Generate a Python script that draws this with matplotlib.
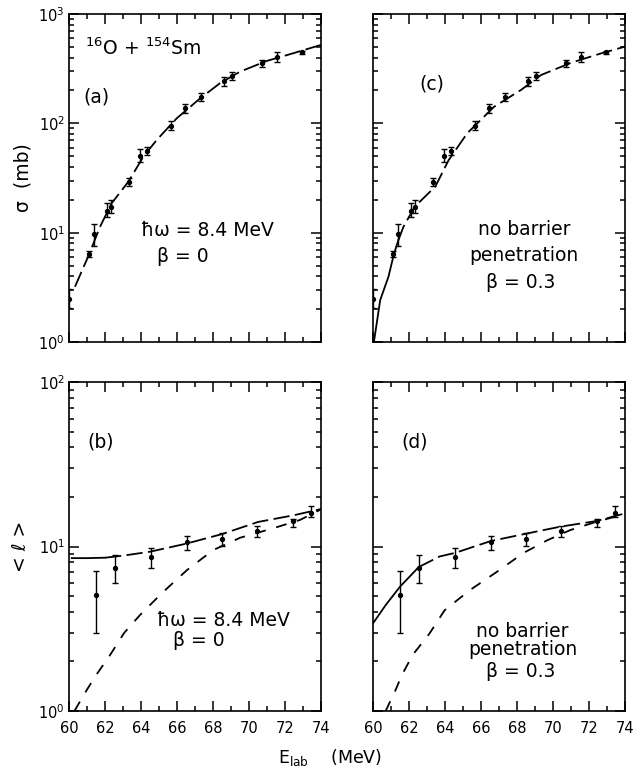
import numpy as np
import matplotlib
matplotlib.use("Agg")
import matplotlib.pyplot as plt
from matplotlib.ticker import LogLocator, MultipleLocator, NullFormatter

# ---- data: cross sections (panels a, c)
sig_E = [60.0, 61.13, 61.39, 62.13, 62.31, 63.35, 63.96, 64.33, 65.65, 66.46, 67.32, 68.59, 69.07, 70.74, 71.56, 72.93]
sig_val = [2.47, 6.35, 9.67, 15.9, 17.3, 28.9, 50.7, 56.3, 95.3, 137, 174, 243, 271, 355, 403, 447]
sig_lo = [2.03, 5.95, 7.55, 14.0, 15.0, 26.9, 44.0, 51.1, 87, 125, 159, 220, 249, 330, 365, 432]
sig_hi = [3.03, 6.8, 12.0, 18.6, 19.9, 31.9, 58.3, 61.2, 106, 150, 188, 264, 295, 380, 447, 462]

# ---- data: mean angular momentum (panels b, d)
l_E = [61.5, 62.57, 64.55, 66.56, 68.52, 70.43, 72.45, 73.45]
l_val = [5.05, 7.4, 8.6, 10.7, 11.1, 12.4, 14.2, 16.0]
l_lo = [2.97, 6.03, 7.44, 9.5, 10.1, 11.5, 13.2, 15.1]
l_hi = [7.13, 8.85, 9.8, 11.6, 12.0, 13.3, 14.8, 17.6]

# ---- theory curves
a_E = [60.33, 61.11, 61.72, 62.37, 63.3, 64.13, 64.87, 65.98, 67.28, 68.39, 69.5, 70.98, 72.46, 74.0]
a_val = [3.2, 6.3, 11.3, 18.6, 29.3, 49.6, 70.4, 111, 169, 233, 297, 372, 438, 522]

c_E = [60.05, 60.4, 60.86, 61.15, 61.41, 61.69, 62.32, 63.46, 64.2, 65.23, 66.73, 68.22, 69.34, 71.02, 72.7, 74.0]
c_val = [1.0, 2.42, 3.96, 6.25, 8.57, 11.3, 17.3, 26.4, 46, 81, 142, 202, 277, 359, 438, 503]

b_up_E = [60.15, 61.0, 62.0, 63.0, 64.5, 66.5, 68.5, 70.5, 72.5, 74.0]
b_up_val = [8.5, 8.5, 8.55, 8.8, 9.3, 10.4, 11.9, 14.1, 15.5, 16.9]

b_low_E = [60.3, 61.0, 61.5, 62.28, 63.06, 63.94, 65.17, 66.56, 68.0, 69.5, 71.33, 72.83, 73.94]
b_low_val = [1.0, 1.35, 1.65, 2.19, 2.98, 3.83, 5.22, 7.2, 9.5, 11.3, 12.9, 14.5, 16.7]

d_up_E = [60.0, 60.7, 61.5, 62.54, 63.7, 64.55, 66.55, 68.55, 70.4, 72.43, 74.0]
d_up_val = [3.41, 4.4, 5.7, 7.5, 8.7, 9.14, 10.8, 12.0, 13.2, 14.3, 15.9]

d_low_E = [60.7, 61.2, 61.6, 62.2, 63.14, 63.98, 65.38, 66.87, 68.36, 69.67, 70.97, 72.47, 73.77]
d_low_val = [1.0, 1.3, 1.65, 2.19, 2.96, 4.1, 5.43, 7.0, 9.14, 10.9, 12.6, 14.2, 15.5]

xticks = [60, 62, 64, 66, 68, 70, 72, 74]

plt.rcParams['font.family'] = ['DejaVu Sans']
fig = plt.figure(figsize=(6.42, 7.71), dpi=100)

W = 0.3925
H_top = 0.4254
ax_a = fig.add_axes([0.1075, 0.5564, W, H_top])
ax_c = fig.add_axes([0.581, 0.5564, W, H_top])
ax_b = fig.add_axes([0.1075, 0.0778, W, 0.4267])
ax_d = fig.add_axes([0.581, 0.0778, W, 0.4267])

LONG = (0, (9, 3))
SHORT = (0, (6, 6))
FS = 13.5


def style(ax, ylim, show_x, show_y):
    ax.set_yscale('log')
    ax.set_xlim(60, 74)
    ax.set_ylim(*ylim)
    ax.set_xticks(xticks)
    ax.xaxis.set_minor_locator(MultipleLocator(1))
    ax.yaxis.set_major_locator(LogLocator(base=10))
    ax.yaxis.set_minor_locator(LogLocator(base=10, subs=np.arange(2, 10)))
    ax.yaxis.set_minor_formatter(NullFormatter())
    ax.tick_params(which='both', direction='in', top=True, right=True, width=1.1, labelsize=10.5)
    ax.tick_params(which='major', length=7)
    ax.tick_params(which='minor', length=3.5)
    ax.tick_params(axis='x', which='major', pad=7)
    ax.tick_params(axis='y', which='major', pad=3)
    if not show_x:
        ax.tick_params(labelbottom=False)
    if not show_y:
        ax.tick_params(labelleft=False)
    for s in ax.spines.values():
        s.set_linewidth(1.2)


def errs(ax, E, v, lo, hi):
    v = np.array(v); lo = np.array(lo); hi = np.array(hi)
    ax.errorbar(E, v, yerr=[v - lo, hi - v], fmt='o', ms=2.8, color='black',
                ecolor='black', elinewidth=1.0, capsize=2.5, capthick=1.0)


# panel a
style(ax_a, (1, 1000), False, True)
errs(ax_a, sig_E, sig_val, sig_lo, sig_hi)
ax_a.plot(a_E, a_val, color='black', lw=1.3, linestyle=LONG)
ax_a.text(64.1, 490, r'$^{16}$O + $^{154}$Sm', fontsize=FS, ha='center', va='center')
ax_a.text(60.8, 174, '(a)', fontsize=FS, ha='left', va='center')
ax_a.text(64.0, 10.5, 'ħω = 8.4 MeV', fontsize=FS, ha='left', va='center')
ax_a.text(64.9, 6.0, 'β = 0', fontsize=FS, ha='left', va='center')
ax_a.set_ylabel('σ  (mb)', fontsize=13.5, labelpad=4)

# panel c
style(ax_c, (1, 1000), False, False)
errs(ax_c, sig_E, sig_val, sig_lo, sig_hi)
cE = np.array(c_E); cV = np.array(c_val)
m1 = cE <= 61.5
ax_c.plot(cE[m1], cV[m1], color='black', lw=1.3)
ax_c.plot(cE[cE >= 61.41], cV[cE >= 61.41], color='black', lw=1.3, linestyle=LONG)
ax_c.text(62.6, 230, '(c)', fontsize=FS, ha='left', va='center')
ax_c.text(68.4, 10.6, 'no barrier', fontsize=FS, ha='center', va='center')
ax_c.text(68.4, 6.25, 'penetration', fontsize=FS, ha='center', va='center')
ax_c.text(68.2, 3.5, 'β = 0.3', fontsize=FS, ha='center', va='center')

# panel b
style(ax_b, (1, 100), True, True)
errs(ax_b, l_E, l_val, l_lo, l_hi)
bE = np.array(b_up_E); bV = np.array(b_up_val)
ax_b.plot(bE[bE <= 62.0], bV[bE <= 62.0], color='black', lw=1.3)
ax_b.plot(bE[bE >= 62.0], bV[bE >= 62.0], color='black', lw=1.3, linestyle=LONG)
ax_b.plot(b_low_E, b_low_val, color='black', lw=1.3, linestyle=SHORT)
ax_b.text(61.0, 43, '(b)', fontsize=FS, ha='left', va='center')
ax_b.text(64.9, 3.57, 'ħω = 8.4 MeV', fontsize=FS, ha='left', va='center')
ax_b.text(65.8, 2.7, 'β = 0', fontsize=FS, ha='left', va='center')
ax_b.set_ylabel('< ℓ >', fontsize=13.5, labelpad=6)

# panel d
style(ax_d, (1, 100), True, False)
errs(ax_d, l_E, l_val, l_lo, l_hi)
dE = np.array(d_up_E); dV = np.array(d_up_val)
ax_d.plot(dE[dE <= 62.54], dV[dE <= 62.54], color='black', lw=1.3)
ax_d.plot(dE[dE >= 62.54], dV[dE >= 62.54], color='black', lw=1.3, linestyle=LONG)
ax_d.plot(d_low_E, d_low_val, color='black', lw=1.3, linestyle=SHORT)
ax_d.text(61.6, 43, '(d)', fontsize=FS, ha='left', va='center')
ax_d.text(68.3, 3.05, 'no barrier', fontsize=FS, ha='center', va='center')
ax_d.text(68.3, 2.35, 'penetration', fontsize=FS, ha='center', va='center')
ax_d.text(68.2, 1.75, 'β = 0.3', fontsize=FS, ha='center', va='center')

fig.text(0.514, 0.018, r'E$_{\mathrm{lab}}$    (MeV)', fontsize=12.5, ha='center', va='center')

fig.savefig('out.png', dpi=100)
